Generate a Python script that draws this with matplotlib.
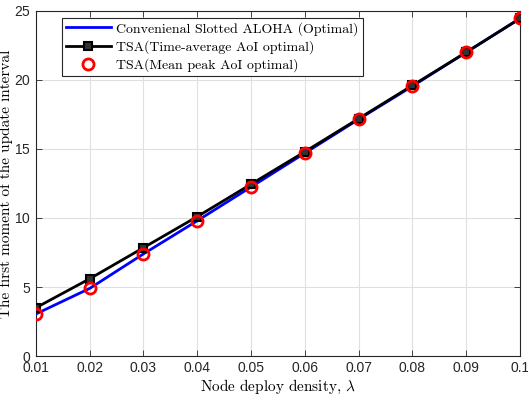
import matplotlib
matplotlib.use('Agg')
import matplotlib.pyplot as plt

lam = [0.01, 0.02, 0.03, 0.04, 0.05, 0.06, 0.07, 0.08, 0.09, 0.1]
csa = [3.05, 4.9, 7.4, 9.8, 12.25, 14.7, 17.15, 19.55, 22.0, 24.45]
tsa_avg = [3.5, 5.6, 7.85, 10.1, 12.45, 14.8, 17.2, 19.6, 22.0, 24.45]
tsa_peak = [3.05, 4.9, 7.4, 9.8, 12.25, 14.7, 17.15, 19.55, 22.0, 24.45]
xtick_labels = ['0.01', '0.02', '0.03', '0.04', '0.05', '0.06', '0.07', '0.08', '0.09', '0.1']

plt.rcParams['mathtext.fontset'] = 'cm'
plt.rcParams['font.serif'] = ['cmr10']
plt.rcParams['axes.formatter.use_mathtext'] = True

fig = plt.figure(figsize=(5.28, 4.01), dpi=100)
ax = fig.add_axes([0.068, 0.112, 0.917, 0.861])

ax.plot(lam, csa, color='blue', lw=2, label='Convenienal Slotted ALOHA (Optimal)', zorder=3)
ax.plot(lam, tsa_avg, color='black', lw=2, marker='s', ms=5.5, mfc='#333333', mew=1.5,
        label='TSA(Time-average AoI optimal)', zorder=4)
ax.plot(lam, tsa_peak, ls='none', marker='o', ms=8, mfc='none', mec='red', mew=2,
        label='TSA(Mean peak AoI optimal)', zorder=5)

ax.set_xlim(0.01, 0.1)
ax.set_ylim(0, 25)
ax.set_xticks(lam)
ax.set_xticklabels(xtick_labels)
ax.set_yticks([0, 5, 10, 15, 20, 25])
for t in ax.get_xticklabels() + ax.get_yticklabels():
    t.set_family('Liberation Sans')
    t.set_fontsize(10)
    t.set_color('#262626')
ax.tick_params(direction='in', top=True, right=True, length=4, width=0.6, colors='#262626')
ax.grid(True, color='#e0e0e0', lw=0.8)
ax.set_axisbelow(True)
for s in ax.spines.values():
    s.set_linewidth(0.8)
    s.set_color('#262626')

ax.set_xlabel('Node deploy density, $\\lambda$', family='serif', fontsize=11, labelpad=2)
ax.set_ylabel('The first moment of the update interval', family='serif', fontsize=11, labelpad=1)

leg = ax.legend(loc='upper left', bbox_to_anchor=(0.054, 0.98), prop={'family': 'serif', 'size': 10},
                fancybox=False, edgecolor='#262626', framealpha=1, borderpad=0.3,
                labelspacing=0.32, handlelength=3.2, handletextpad=0.4, borderaxespad=0)
leg.get_frame().set_linewidth(0.8)

fig.savefig('out.png', dpi=100)
